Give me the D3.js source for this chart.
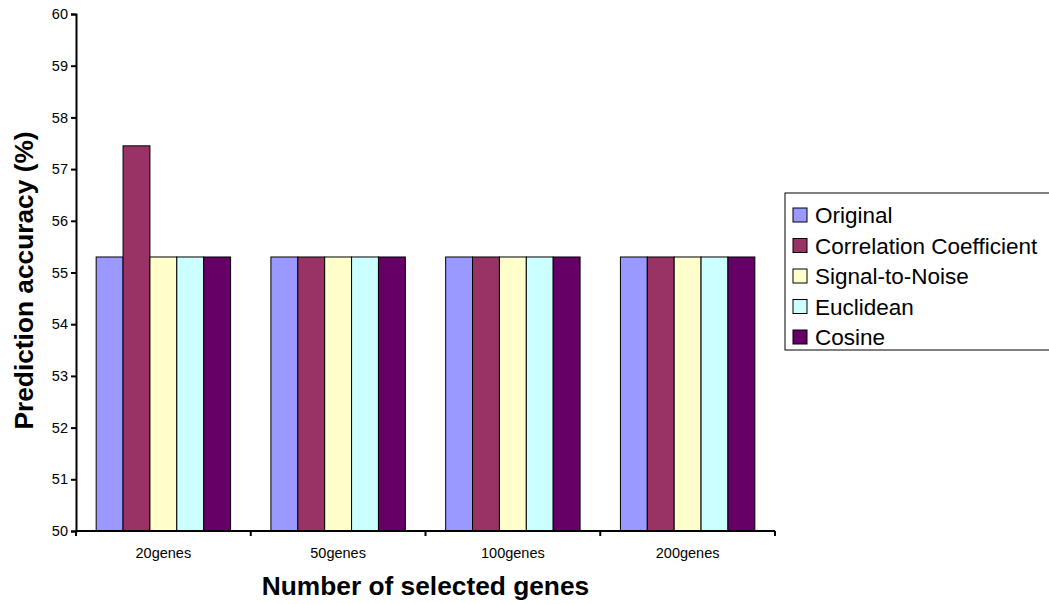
<!DOCTYPE html>
<html>
<head>
<meta charset="utf-8">
<script src="https://cdn.jsdelivr.net/npm/d3@7"></script>
<style>
  html, body { margin: 0; padding: 0; background: #fff; }
  svg { display: block; font-family: "Liberation Sans", Arial, sans-serif; }
</style>
</head>
<body>
<svg id="chart" width="1049" height="604"></svg>
<script>
// Gene-selection groups and the methods compared in each
const categories = ["20genes", "50genes", "100genes", "200genes"];
const methods = ["Original", "Correlation Coefficient", "Signal-to-Noise", "Euclidean", "Cosine"];
const colors = ["#9999FF", "#993366", "#FFFFCC", "#CCFFFF", "#660066"];

// Prediction accuracy (%) per method, one value per category
const original    = [55.3, 55.3, 55.3, 55.3];
const correlation = [57.45, 55.3, 55.3, 55.3];
const signalNoise = [55.3, 55.3, 55.3, 55.3];
const euclidean   = [55.3, 55.3, 55.3, 55.3];
const cosine      = [55.3, 55.3, 55.3, 55.3];
const series = [original, correlation, signalNoise, euclidean, cosine];

const yTicks = [50, 51, 52, 53, 54, 55, 56, 57, 58, 59, 60];

const FONT = "'Liberation Sans', Arial, sans-serif";
const svg = d3.select("#chart");
const plot = { left: 76, right: 775, top: 14, bottom: 531 };

const x = d3.scaleBand().domain(categories).range([plot.left, plot.right]).paddingInner(0).paddingOuter(0);
const y = d3.scaleLinear().domain([50, 60]).range([plot.bottom, plot.top]);

// bars take 5 of 6.5 slots per category (gap = 1.5 bar widths)
const barW = x.bandwidth() / 6.5;
const inner = d3.scaleBand().domain(d3.range(methods.length))
  .range([barW * 0.75, barW * 0.75 + barW * methods.length]);

const g = svg.append("g");
categories.forEach((cat, ci) => {
  series.forEach((vals, si) => {
    g.append("rect")
      .attr("x", x(cat) + inner(si))
      .attr("y", y(vals[ci]))
      .attr("width", inner.bandwidth())
      .attr("height", y(50) - y(vals[ci]))
      .attr("fill", colors[si])
      .attr("stroke", "#000")
      .attr("stroke-width", 1);
  });
});

// Y axis
const yAxis = d3.axisLeft(y).tickValues(yTicks).tickSize(5).tickPadding(3).tickFormat(d3.format("d"));
const yg = svg.append("g").attr("transform", `translate(${plot.left},0)`).call(yAxis);
yg.select(".domain").attr("stroke", "#000").attr("stroke-width", 2);
yg.selectAll(".tick line").attr("stroke", "#000").attr("stroke-width", 2);
yg.selectAll(".tick text").attr("font-size", 14.5).attr("fill", "#000").attr("font-family", FONT);

// X axis: ticks sit on category boundaries
const xg = svg.append("g").attr("transform", `translate(0,${plot.bottom})`);
xg.append("line").attr("x1", plot.left).attr("x2", plot.right).attr("y1", 0).attr("y2", 0)
  .attr("stroke", "#000").attr("stroke-width", 2);
const bounds = categories.map(c => x(c)).concat([plot.right]);
xg.selectAll("line.tk").data(bounds).enter().append("line").attr("class", "tk")
  .attr("x1", d => d).attr("x2", d => d).attr("y1", 0).attr("y2", 5)
  .attr("stroke", "#000").attr("stroke-width", 2);
xg.selectAll("text.lbl").data(categories).enter().append("text").attr("class", "lbl")
  .attr("x", d => x(d) + x.bandwidth() / 2).attr("y", 27)
  .attr("text-anchor", "middle").attr("font-size", 14.5).attr("fill", "#000").text(d => d);

// Axis titles
svg.append("text").attr("x", (plot.left + plot.right) / 2).attr("y", 595)
  .attr("text-anchor", "middle").attr("font-size", 26.3).attr("font-weight", "bold")
  .text("Number of selected genes");
svg.append("text").attr("transform", `translate(33,${(plot.top + plot.bottom) / 2 + 8}) rotate(-90)`)
  .attr("text-anchor", "middle").attr("font-size", 26.3).attr("font-weight", "bold")
  .text("Prediction accuracy (%)");

// Legend
const lg = svg.append("g").attr("transform", "translate(785,193)");
lg.append("rect").attr("x", 0).attr("y", 0).attr("width", 280).attr("height", 157)
  .attr("fill", "#fff").attr("stroke", "#000").attr("stroke-width", 1);
methods.forEach((m, i) => {
  const cy = 22 + i * 30.5;
  lg.append("rect").attr("x", 8).attr("y", cy - 7).attr("width", 14).attr("height", 14)
    .attr("fill", colors[i]).attr("stroke", "#000").attr("stroke-width", 1);
  lg.append("text").attr("x", 30).attr("y", cy + 8).attr("font-size", 22.5).attr("fill", "#000").text(m);
});
</script>
</body>
</html>
